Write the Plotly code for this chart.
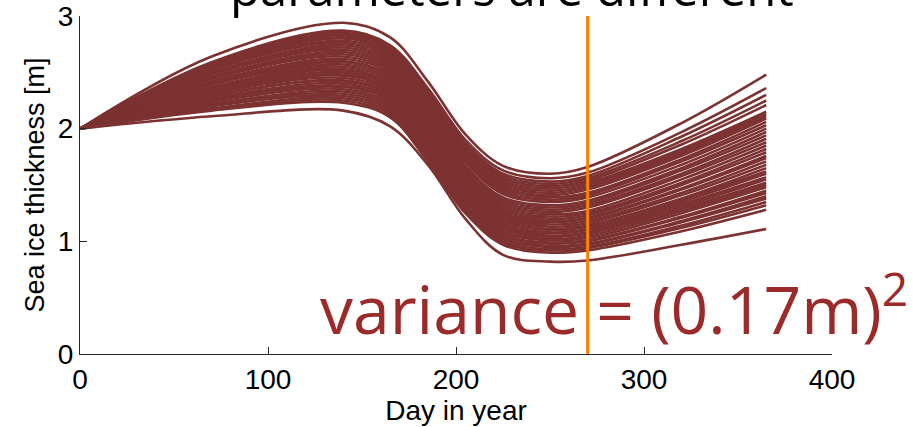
import plotly.graph_objects as go

days = [0, 70, 140, 165, 185, 205, 225, 250, 270, 320, 365]

# Sea ice thickness [m] per ensemble member at the knot days
run_01 = [2.00, 2.64, 2.94, 2.81, 2.42, 1.95, 1.67, 1.60, 1.66, 2.05, 2.48]
run_02 = [2.00, 2.59, 2.87, 2.74, 2.36, 1.90, 1.63, 1.56, 1.61, 1.97, 2.36]
run_03 = [2.00, 2.58, 2.85, 2.72, 2.34, 1.87, 1.60, 1.53, 1.58, 1.93, 2.30]
run_04 = [2.00, 2.57, 2.84, 2.71, 2.32, 1.86, 1.58, 1.51, 1.56, 1.89, 2.25]
run_05 = [2.00, 2.56, 2.83, 2.70, 2.31, 1.84, 1.56, 1.49, 1.54, 1.86, 2.21]
run_06 = [2.00, 2.55, 2.81, 2.68, 2.29, 1.82, 1.54, 1.47, 1.52, 1.82, 2.15]
run_07 = [2.00, 2.54, 2.80, 2.67, 2.27, 1.80, 1.52, 1.45, 1.50, 1.80, 2.13]
run_08 = [2.00, 2.53, 2.78, 2.65, 2.25, 1.78, 1.50, 1.43, 1.48, 1.78, 2.11]
run_09 = [2.00, 2.52, 2.76, 2.63, 2.23, 1.76, 1.48, 1.41, 1.46, 1.76, 2.09]
run_10 = [2.00, 2.50, 2.74, 2.61, 2.21, 1.74, 1.46, 1.39, 1.43, 1.73, 2.06]
run_11 = [2.00, 2.49, 2.72, 2.59, 2.19, 1.72, 1.44, 1.37, 1.41, 1.71, 2.03]
run_12 = [2.00, 2.48, 2.70, 2.57, 2.17, 1.70, 1.42, 1.35, 1.39, 1.68, 2.00]
run_13 = [2.00, 2.46, 2.68, 2.55, 2.15, 1.67, 1.39, 1.32, 1.36, 1.65, 1.97]
run_14 = [2.00, 2.45, 2.66, 2.53, 2.13, 1.65, 1.37, 1.30, 1.34, 1.63, 1.94]
run_15 = [2.00, 2.44, 2.64, 2.51, 2.11, 1.63, 1.35, 1.28, 1.32, 1.60, 1.91]
run_16 = [2.00, 2.42, 2.62, 2.49, 2.09, 1.61, 1.33, 1.26, 1.30, 1.58, 1.88]
run_17 = [2.00, 2.41, 2.60, 2.47, 2.07, 1.59, 1.31, 1.24, 1.27, 1.55, 1.85]
run_18 = [2.00, 2.40, 2.59, 2.46, 2.06, 1.58, 1.29, 1.22, 1.25, 1.52, 1.82]
run_19 = [2.00, 2.39, 2.57, 2.44, 2.04, 1.56, 1.27, 1.20, 1.23, 1.50, 1.79]
run_20 = [2.00, 2.37, 2.55, 2.42, 2.02, 1.54, 1.25, 1.18, 1.21, 1.47, 1.76]
run_21 = [2.00, 2.36, 2.53, 2.40, 2.00, 1.52, 1.24, 1.17, 1.20, 1.46, 1.74]
run_22 = [2.00, 2.35, 2.52, 2.39, 1.99, 1.51, 1.23, 1.15, 1.18, 1.43, 1.71]
run_23 = [2.00, 2.34, 2.50, 2.37, 1.97, 1.49, 1.21, 1.13, 1.16, 1.41, 1.68]
run_24 = [2.00, 2.33, 2.48, 2.35, 1.95, 1.47, 1.19, 1.11, 1.14, 1.38, 1.65]
run_25 = [2.00, 2.32, 2.47, 2.34, 1.94, 1.46, 1.18, 1.10, 1.13, 1.37, 1.62]
run_26 = [2.00, 2.31, 2.45, 2.32, 1.92, 1.44, 1.16, 1.08, 1.11, 1.35, 1.60]
run_27 = [2.00, 2.29, 2.43, 2.30, 1.90, 1.42, 1.14, 1.07, 1.10, 1.33, 1.57]
run_28 = [2.00, 2.29, 2.42, 2.29, 1.89, 1.41, 1.13, 1.05, 1.08, 1.31, 1.55]
run_29 = [2.00, 2.27, 2.40, 2.27, 1.87, 1.39, 1.11, 1.04, 1.07, 1.29, 1.52]
run_30 = [2.00, 2.26, 2.38, 2.25, 1.85, 1.37, 1.09, 1.02, 1.05, 1.27, 1.50]
run_31 = [2.00, 2.25, 2.37, 2.24, 1.84, 1.36, 1.08, 1.01, 1.03, 1.25, 1.48]
run_32 = [2.00, 2.24, 2.35, 2.22, 1.82, 1.34, 1.06, 0.99, 1.01, 1.22, 1.45]
run_33 = [2.00, 2.22, 2.33, 2.20, 1.80, 1.33, 1.05, 0.98, 1.00, 1.21, 1.43]
run_34 = [2.00, 2.21, 2.31, 2.18, 1.78, 1.31, 1.03, 0.96, 0.98, 1.18, 1.40]
run_35 = [2.00, 2.20, 2.29, 2.16, 1.77, 1.30, 1.02, 0.95, 0.97, 1.17, 1.38]
run_36 = [2.00, 2.18, 2.27, 2.14, 1.75, 1.28, 1.00, 0.93, 0.95, 1.14, 1.35]
run_37 = [2.00, 2.17, 2.25, 2.12, 1.73, 1.27, 0.99, 0.92, 0.94, 1.12, 1.32]
run_38 = [2.00, 2.16, 2.23, 2.10, 1.71, 1.25, 0.97, 0.90, 0.92, 1.09, 1.28]
run_39 = [2.00, 2.11, 2.16, 2.02, 1.68, 1.20, 0.88, 0.82, 0.83, 0.97, 1.11]

runs = [run_01, run_02, run_03, run_04, run_05, run_06, run_07, run_08, run_09,
        run_10, run_11, run_12, run_13, run_14, run_15, run_16, run_17, run_18,
        run_19, run_20, run_21, run_22, run_23, run_24, run_25, run_26, run_27,
        run_28, run_29, run_30, run_31, run_32, run_33, run_34, run_35, run_36,
        run_37, run_38, run_39]

marker_day = [270, 270]
marker_span = [0, 3]

x_ticks = [0, 100, 200, 300, 400]
y_ticks = [0, 1, 2, 3]

title_text = "parameters are different"
variance_text = "variance = (0.17m)<sup>2</sup>"

LINE_COLOR = "#7d3232"
TEXT_RED = "#9b2a2a"
ORANGE = "#ff8000"
AXIS = "#262626"

fig = go.Figure()
for r in runs:
    fig.add_trace(go.Scatter(
        x=days, y=r, mode="lines",
        line=dict(color=LINE_COLOR, width=2.6, shape="spline", smoothing=1.0),
        showlegend=False, hoverinfo="skip"))

fig.add_trace(go.Scatter(
    x=marker_day, y=marker_span, mode="lines",
    line=dict(color=ORANGE, width=3), showlegend=False, hoverinfo="skip"))

fig.add_annotation(
    x=0.575, xref="paper", y=0.982, yref="paper",
    xanchor="center", yanchor="bottom", showarrow=False,
    text=title_text, font=dict(family="Open Sans", size=49, color="black"))

fig.add_annotation(
    x=0.3165, xref="paper", y=-0.004, yref="paper",
    xanchor="left", yanchor="bottom", showarrow=False,
    text=variance_text, font=dict(family="Open Sans", size=66, color=TEXT_RED))

tick_font = dict(family="Liberation Sans", size=28, color="black")

fig.update_layout(
    width=913, height=427,
    margin=dict(l=80, r=81, t=16, b=73, autoexpand=False),
    plot_bgcolor="white", paper_bgcolor="white",
    xaxis=dict(range=[0, 400], tickvals=x_ticks, ticktext=[str(v) for v in x_ticks],
               showline=True, linecolor=AXIS, linewidth=1, mirror=False,
               ticks="inside", ticklen=7, tickcolor=AXIS, showgrid=False, zeroline=False,
               tickfont=tick_font,
               title=dict(text="Day in year",
                          font=dict(family="Liberation Sans", size=28, color="black"),
                          standoff=2)),
    yaxis=dict(range=[0, 3], tickvals=y_ticks, ticktext=[str(v) for v in y_ticks],
               showline=True, linecolor=AXIS, linewidth=1, mirror=False,
               ticks="inside", ticklen=7, tickcolor=AXIS, showgrid=False, zeroline=False,
               tickfont=tick_font,
               title=dict(text="Sea ice thickness [m]",
                          font=dict(family="Liberation Sans", size=27, color="black"),
                          standoff=5)),
)

fig.write_html("out.html")
